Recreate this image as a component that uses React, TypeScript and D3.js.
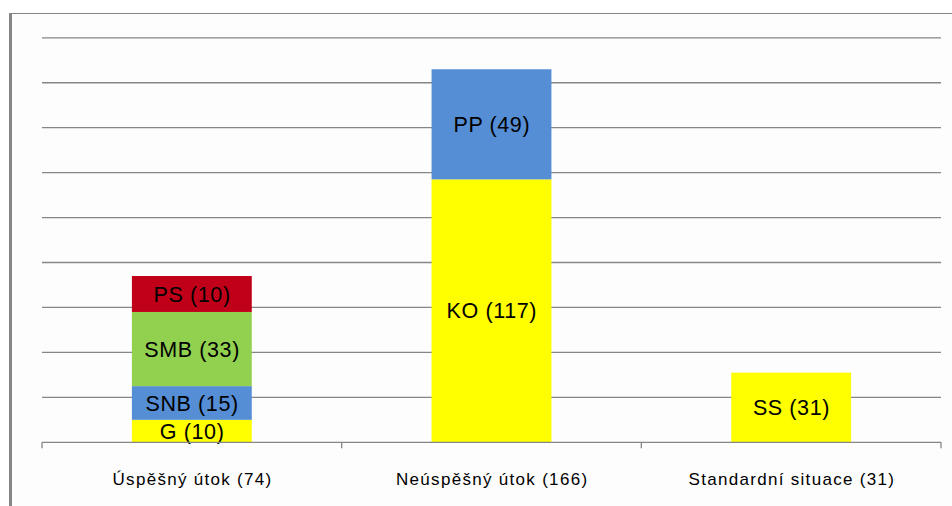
import React from "react";
import * as d3 from "d3";

const categories = ["Úspěšný útok (74)", "Neúspěšný útok (166)", "Standardní situace (31)"];

const uspesnyValues = [10, 15, 33, 16];
const uspesnyLabels = ["G (10)", "SNB (15)", "SMB (33)", "PS (10)"];
const uspesnyColors = ["#FFFF00", "#558ED5", "#92D050", "#C00018"];

const neuspesnyValues = [117, 49];
const neuspesnyLabels = ["KO (117)", "PP (49)"];
const neuspesnyColors = ["#FFFF00", "#558ED5"];

const standardValues = [31];
const standardLabels = ["SS (31)"];
const standardColors = ["#FFFF00"];

const yTicks = [0, 20, 40, 60, 80, 100, 120, 140, 160, 180];

const W = 952;
const H = 506;

export default function App() {
  const plotLeft = 42;
  const plotRight = 941;
  const baseY = 442.3;
  const topY = 37.8;

  const x = d3
    .scaleBand<string>()
    .domain(categories)
    .range([plotLeft, plotRight])
    .paddingInner(0.6)
    .paddingOuter(0.3);
  const step = x.step();
  const y = d3.scaleLinear().domain([0, 180]).range([baseY, topY]);

  const groups = [
    { cat: categories[0], values: uspesnyValues, labels: uspesnyLabels, colors: uspesnyColors },
    { cat: categories[1], values: neuspesnyValues, labels: neuspesnyLabels, colors: neuspesnyColors },
    { cat: categories[2], values: standardValues, labels: standardLabels, colors: standardColors },
  ];

  const tickXs = [plotLeft, ...categories.map((c) => (x(c) as number) - step * 0.3 + step)];

  return (
    <svg
      width={W}
      height={H}
      style={{ position: "absolute", left: 0, top: 0, background: "#ffffff" }}
    >
      <rect x={10} y={13} width={W - 10} height={H - 13} fill="#FDFDFD" />
      <line x1={9} x2={W} y1={13.5} y2={13.5} stroke="#868686" strokeWidth={1} />
      <line x1={10.5} x2={10.5} y1={13} y2={H} stroke="#868686" strokeWidth={3} />

      {yTicks.slice(1).map((t) => (
        <line
          key={t}
          x1={plotLeft}
          x2={plotRight}
          y1={y(t)}
          y2={y(t)}
          stroke="#868686"
          strokeWidth={1.3}
        />
      ))}

      {groups.map((g) => {
        const cum = Array.from(d3.cumsum(g.values));
        const bx = x(g.cat) as number;
        const bw = x.bandwidth();
        return (
          <g key={g.cat}>
            {g.values.map((v, i) => {
              const y0 = y(cum[i] - v);
              const y1 = y(cum[i]);
              return (
                <rect key={i} x={bx} y={y1} width={bw} height={y0 - y1} fill={g.colors[i]} />
              );
            })}
            {g.values.map((v, i) => {
              const y0 = y(cum[i] - v);
              const y1 = y(cum[i]);
              const cy = (y0 + y1) / 2;
              return (
                <text
                  key={"t" + i}
                  x={bx + bw / 2 + 0.3}
                  y={cy + 7.6}
                  textAnchor="middle"
                  fontFamily="Liberation Sans, Arial, sans-serif"
                  fontSize={21.5}
                  letterSpacing={0.6}
                  fill="#000"
                >
                  {g.labels[i]}
                </text>
              );
            })}
          </g>
        );
      })}

      <line x1={plotLeft} x2={plotRight} y1={baseY} y2={baseY} stroke="#868686" strokeWidth={1.3} />
      {tickXs.map((tx, i) => (
        <line key={i} x1={tx} x2={tx} y1={baseY} y2={baseY + 6} stroke="#868686" strokeWidth={1.3} />
      ))}

      {categories.map((c) => (
        <text
          key={c}
          x={(x(c) as number) + x.bandwidth() / 2 + 0.7}
          y={485}
          textAnchor="middle"
          fontFamily="Liberation Sans, Arial, sans-serif"
          fontSize={17}
          letterSpacing={1.3}
          fill="#000"
        >
          {c}
        </text>
      ))}
    </svg>
  );
}
